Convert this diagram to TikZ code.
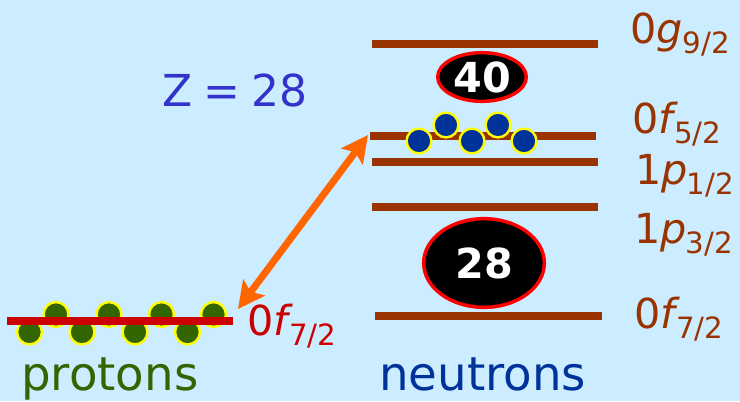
\documentclass[tikz,border=0pt]{standalone}
\usepackage{fontspec}
\setmainfont{DejaVu Sans}
\usepackage{tikz}
\usetikzlibrary{arrows.meta,shapes.geometric}
\definecolor{ShellBack}{HTML}{CCECFF}
\definecolor{ShellLevel}{HTML}{993300}
\definecolor{ShellProton}{HTML}{336600}
\definecolor{ShellNeutron}{HTML}{003399}
\definecolor{ShellRed}{HTML}{CC0000}
\definecolor{ShellRim}{HTML}{FF0000}
\definecolor{ShellZ}{HTML}{3333CC}
\definecolor{ShellArrow}{HTML}{FF6600}
\definecolor{ShellHalo}{HTML}{FFFF00}
\newcommand{\orbit}[4]{#1\textit{#2}\kern#4\raisebox{-8pt}{\fontsize{22}{22}\selectfont #3}}

\begin{document}
\begin{tikzpicture}[x=0.75pt,y=-0.75pt,
    level/.style={ShellLevel,line width=6pt},
    lab/.style={anchor=base west,inner sep=0pt,font=\fontsize{31}{31}\selectfont},
    big/.style={anchor=base west,inner sep=0pt,font=\fontsize{35}{35}\selectfont},
    ball/.style={draw=ShellHalo,line width=1.8pt},
    magic/.style={ellipse,fill=black,draw=ShellRim,line width=2.6pt,inner sep=0pt,
      text=white,font=\fontsize{31}{31}\selectfont\bfseries}]
    \useasboundingbox (0,0) rectangle (740,401);
    \fill[ShellBack] (0,0) rectangle (740,401);

    \draw[level] (372,44) -- (598,44);
    \draw[level] (370,136) -- (596,136);
    \draw[level] (372,162) -- (598,162);
    \draw[level] (372,207) -- (598,207);
    \draw[level] (375,316) -- (602,316);

    \foreach \x/\y in {419/141,446/125,472/141,498/125,524/141}
      \filldraw[ball,fill=ShellNeutron] (\x,\y) circle[radius=9.3pt];

    \foreach \x/\y in {29.5/332,56/314.5,82/332,109/314.5,135/332,161.5/314.5,187.5/332,213.5/314.5}
      \filldraw[ball,fill=ShellProton] (\x,\y) circle[radius=9.3pt];
    \draw[ShellRed,line width=6pt] (7,321) -- (233,321);

    \node[magic,minimum width=66.5pt,minimum height=36.5pt] (m40) at (482,77) {40};
    \node[magic,minimum width=90.5pt,minimum height=66.5pt] (m28) at (484,263) {28};

    \node[lab,text=ShellLevel] (g92) at (630,43) {\orbit{0}{g}{9/2}{0pt}};
    \node[lab,text=ShellLevel] (f52) at (632,133) {\orbit{0}{f}{5/2}{-3pt}};
    \node[lab,text=ShellLevel] (p12) at (635,184) {\orbit{1}{p}{1/2}{-1pt}};
    \node[lab,text=ShellLevel] (p32) at (634,243) {\orbit{1}{p}{3/2}{-1pt}};
    \node[lab,text=ShellLevel] (f72n) at (634,328) {\orbit{0}{f}{7/2}{-3pt}};
    \node[lab,text=ShellRed] (f72p) at (247,335) {\orbit{0}{f}{7/2}{-3pt}};

    \node[big,text=ShellZ,font=\fontsize{33}{33}\selectfont] (zval) at (162,106) {\spaceskip=8.5pt Z = 28};
    \node[big,text=ShellProton] (prot) at (21,390) {protons};
    \node[big,text=ShellNeutron] (neut) at (379,390) {neutrons};

    \coordinate (pEnd) at (238,309);
    \coordinate (nEnd) at (368,135);
    \draw[ShellArrow,line width=5.25pt,{Stealth[length=20pt,width=20pt,inset=4pt]}-{Stealth[length=20pt,width=20pt,inset=4pt]}] (pEnd) -- (nEnd);
  \end{tikzpicture}
\end{document}
